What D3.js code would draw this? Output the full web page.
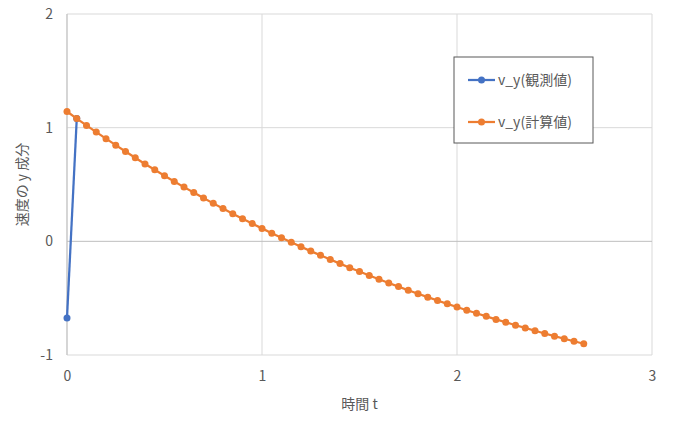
<!DOCTYPE html>
<html lang="ja">
<head>
    <meta charset="UTF-8">
    <title>v_y</title>
</head>
<script src="https://cdn.jsdelivr.net/npm/d3@7"></script>
<body>
    <div id="chart-space"></div>
</body>

<script>
    // time values (s) and y-velocity
    var times = [0, 0.05, 0.1, 0.15, 0.2, 0.25, 0.3, 0.35, 0.4, 0.45,
                 0.5, 0.55, 0.6, 0.65, 0.7, 0.75, 0.8, 0.85, 0.9, 0.95,
                 1.0, 1.05, 1.1, 1.15, 1.2, 1.25, 1.3, 1.35, 1.4, 1.45,
                 1.5, 1.55, 1.6, 1.65, 1.7, 1.75, 1.8, 1.85, 1.9, 1.95,
                 2.0, 2.05, 2.1, 2.15, 2.2, 2.25, 2.3, 2.35, 2.4, 2.45,
                 2.5, 2.55, 2.6, 2.65];
    var calcValues = [1.142, 1.080, 1.020, 0.961, 0.903, 0.846, 0.790, 0.735, 0.681, 0.629,
                      0.577, 0.527, 0.477, 0.429, 0.381, 0.334, 0.288, 0.243, 0.199, 0.156,
                      0.114, 0.072, 0.032, -0.008, -0.047, -0.086, -0.123, -0.160, -0.196, -0.232,
                      -0.266, -0.300, -0.334, -0.366, -0.398, -0.430, -0.461, -0.491, -0.521, -0.550,
                      -0.578, -0.606, -0.633, -0.660, -0.687, -0.712, -0.738, -0.762, -0.787, -0.811,
                      -0.834, -0.857, -0.879, -0.901];
    var obsTimes = [0, 0.05];
    var obsValues = [-0.675, 1.080];

    var xTicks = [0, 1, 2, 3];
    var yTicks = [-1, 0, 1, 2];
    var seriesNames = ["v_y(観測値)", "v_y(計算値)"];
    var seriesColors = ["#4472C4", "#ED7D31"];

    var width = 674;
    var height = 422;
    var margin = {top: 14, right: 22, bottom: 67, left: 67};
    var chartWidth = width - margin.left - margin.right;
    var chartHeight = height - margin.top - margin.bottom;
    var font = "'Noto Sans CJK JP', 'Noto Sans', sans-serif";

    var svg = d3.select("#chart-space")
                .append("svg")
                .attr("width", width)
                .attr("height", height)
                .style("font-family", font);

    svg.append("rect").attr("width", width).attr("height", height).attr("fill", "#fff");

    var xScale = d3.scaleLinear().domain([0, 3]).range([0, chartWidth]);
    var yScale = d3.scaleLinear().domain([-1, 2]).range([chartHeight, 0]);

    var g = svg.append("g").attr("transform", "translate(" + margin.left + "," + margin.top + ")");

    // gridlines
    g.selectAll(".vgrid").data(xTicks).join("line")
        .attr("x1", function(d){return xScale(d)}).attr("x2", function(d){return xScale(d)})
        .attr("y1", 0).attr("y2", chartHeight)
        .attr("stroke", "#d9d9d9").attr("stroke-width", 1);
    g.selectAll(".hgrid").data(yTicks).join("line")
        .attr("x1", 0).attr("x2", chartWidth)
        .attr("y1", function(d){return yScale(d)}).attr("y2", function(d){return yScale(d)})
        .attr("stroke", function(d){return d === 0 ? "#bfbfbf" : "#d9d9d9"}).attr("stroke-width", 1);
    // vertical axis line at x=0
    g.append("line").attr("x1", xScale(0)).attr("x2", xScale(0))
        .attr("y1", 0).attr("y2", chartHeight).attr("stroke", "#bfbfbf");

    // tick labels, plain integers with a hyphen minus
    var fmt = function(d){ return String(d); };
    var xAxis = d3.axisBottom(xScale).tickValues(xTicks).tickFormat(fmt).tickSize(0).tickPadding(16);
    g.append("g").attr("transform", "translate(0," + chartHeight + ")").call(xAxis)
        .call(function(a){ a.select(".domain").remove(); })
        .selectAll("text").attr("fill", "#595959").style("font-size", "14px").style("font-family", font);

    var yAxis = d3.axisLeft(yScale).tickValues(yTicks).tickFormat(fmt).tickSize(0).tickPadding(14);
    g.append("g").call(yAxis)
        .call(function(a){ a.select(".domain").remove(); })
        .selectAll("text").attr("fill", "#595959").style("font-size", "14px").style("font-family", font);

    // series
    var calcData = times.map(function(t, i){ return {t: t, v: calcValues[i]}; });
    var obsData = obsTimes.map(function(t, i){ return {t: t, v: obsValues[i]}; });
    var line = d3.line().x(function(d){return xScale(d.t)}).y(function(d){return yScale(d.v)});

    [obsData, calcData].forEach(function(data, k) {
        g.append("path").datum(data)
            .attr("d", line).attr("fill", "none")
            .attr("stroke", seriesColors[k]).attr("stroke-width", 2.25)
            .attr("stroke-linejoin", "round");
        g.selectAll(".m" + k).data(data).join("circle")
            .attr("cx", function(d){return xScale(d.t)})
            .attr("cy", function(d){return yScale(d.v)})
            .attr("r", 3.5)
            .attr("fill", seriesColors[k]);
    });

    // axis titles
    svg.append("text")
        .attr("x", margin.left + chartWidth / 2).attr("y", 409)
        .attr("text-anchor", "middle").attr("fill", "#595959").style("font-size", "14px")
        .text("時間 t");
    svg.append("text")
        .attr("transform", "translate(27," + (margin.top + chartHeight / 2) + ") rotate(-90)")
        .attr("text-anchor", "middle").attr("fill", "#595959").style("font-size", "14px")
        .text("速度の y 成分");

    // legend
    var legend = svg.append("g").attr("transform", "translate(454,57)");
    legend.append("rect").attr("width", 139).attr("height", 86)
        .attr("fill", "#fff").attr("stroke", "#595959").attr("stroke-width", 1);
    seriesNames.forEach(function(name, k) {
        var y = 23 + k * 42;
        legend.append("line").attr("x1", 14).attr("x2", 41).attr("y1", y).attr("y2", y)
            .attr("stroke", seriesColors[k]).attr("stroke-width", 2.25);
        legend.append("circle").attr("cx", 27.5).attr("cy", y).attr("r", 3.5).attr("fill", seriesColors[k]);
        legend.append("text").attr("x", 44).attr("y", y + 5)
            .attr("fill", "#595959").style("font-size", "14px").text(name);
    });
</script>

<style>
    body { margin: 0; }
</style>
</html>
